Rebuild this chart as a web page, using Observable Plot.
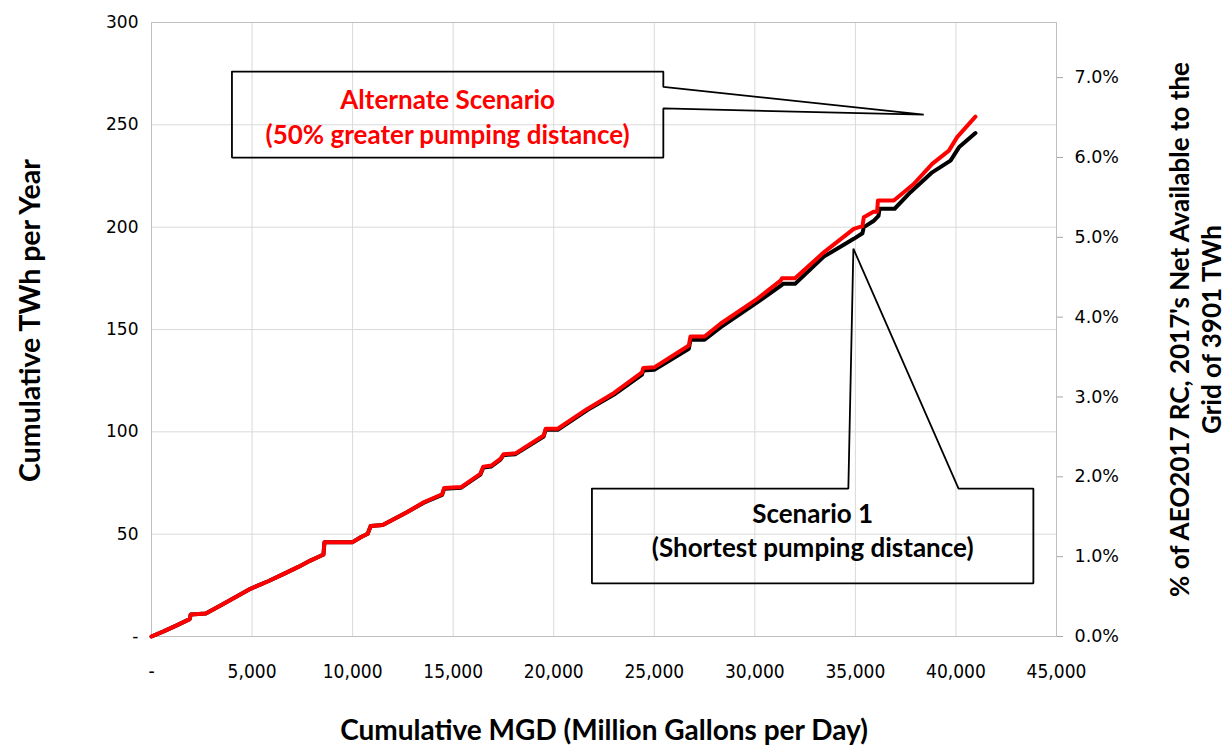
<!DOCTYPE html>
<html><head><meta charset="utf-8">
<script src="https://cdn.jsdelivr.net/npm/d3@7"></script>
<script src="https://cdn.jsdelivr.net/npm/@observablehq/plot@0.6"></script>
<style>body{margin:0;background:#fff;}</style>
</head><body><div id="chart"></div>
<script>
// Alternate Scenario (50% greater pumping distance): cumulative MGD vs cumulative TWh/yr
const altMGD = [0,600,1200,1900,1950,2700,3500,4920,5800,6580,7300,7900,8450,8550,8600,10000,10400,10750,10900,11500,12700,13540,14450,14550,15400,16350,16500,16900,17350,17500,18100,19500,19600,20200,21670,23000,24390,24450,25000,26720,26800,27500,28290,30120,31280,31350,32000,33430,34920,35350,35420,35900,36080,36120,36910,37410,37900,38820,39650,40060,40970];
const altTWh = [0,2.5,5.2,8.5,10.8,11.2,15.5,23.3,27,30.6,34,37.1,39.6,40,46.1,46.1,48.5,50.2,54,54.5,60.7,65.6,69.5,72.5,73,79.5,83,83.5,86.8,89,89.5,98.2,101.5,101.5,111.2,119,129,131.2,131.5,142.2,146.6,146.6,152.8,165,173.9,175,175,187.7,199.2,200.5,204.9,207.5,207.5,213,213,217.1,221.1,230.9,237.4,244,254];
// Scenario 1 (shortest pumping distance)
const baseMGD = [0,600,1200,1900,1950,2700,3500,4920,5800,6580,7300,7900,8450,8550,8600,10000,10400,10750,10900,11500,12700,13540,14450,14550,15400,16350,16500,16900,17350,17500,18100,19500,19600,20200,21670,23000,24390,24450,25000,26720,26800,27500,28290,30120,31280,31400,32000,33430,34920,35350,35420,35900,36150,36200,36950,37740,38820,39730,40150,40970];
const baseTWh = [0,2.5,5.2,8.5,10.8,11.2,15.5,23.3,27,30.6,34,37.1,39.6,40,46.1,46.1,48.5,50.2,54,54.5,60.7,65.4,69.2,72.2,72.7,79.1,82.6,83.1,86.4,88.6,89.1,97.7,101,101,110.6,118.2,127.9,130,130.3,140.6,145,145,151,163.3,171.3,172.3,172.3,185.6,194.3,197,200,203,205.5,209,209,217.1,226.8,232.5,239,246];

const xTicks = [0,5000,10000,15000,20000,25000,30000,35000,40000,45000];
const yTicks = [0,50,100,150,200,250,300];
const pctTicks = [0,1,2,3,4,5,6,7];
const gridTotalTWh = 3901;

const xTitle = "Cumulative MGD (Million Gallons per Day)";
const yTitle = "Cumulative TWh per Year";
const y2Title = "% of AEO2017 RC, 2017's Net Available to the\nGrid of 3901 TWh";

// Callout annotations (data coordinates)
const altCallout = {text: ["Alternate Scenario", "(50% greater pumping distance)"],
  x0: 4000, x1: 25450, y0: 234, y1: 276, notchLo: 258, notchHi: 268.5, tip: [38400, 255], textY: 254.5};
const baseCallout = {text: ["Scenario 1", "(Shortest pumping distance)"],
  x0: 21900, x1: 43850, y0: 26, y1: 72.3, notchL: 34650, notchR: 40130, tip: [34900, 189.5], textY: 52.3};

const alt = altMGD.map((m, i) => ({mgd: m, twh: altTWh[i]}));
const base = baseMGD.map((m, i) => ({mgd: m, twh: baseTWh[i]}));

const altPoly = [[altCallout.x0, altCallout.y1],[altCallout.x1, altCallout.y1],[altCallout.x1, altCallout.notchHi],
  altCallout.tip,[altCallout.x1, altCallout.notchLo],[altCallout.x1, altCallout.y0],[altCallout.x0, altCallout.y0],[altCallout.x0, altCallout.y1]];
const basePoly = [[baseCallout.x0, baseCallout.y1],[baseCallout.notchL, baseCallout.y1], baseCallout.tip,
  [baseCallout.notchR, baseCallout.y1],[baseCallout.x1, baseCallout.y1],[baseCallout.x1, baseCallout.y0],[baseCallout.x0, baseCallout.y0],[baseCallout.x0, baseCallout.y1]];

const boldFont = "Lato, 'Open Sans', sans-serif";
const tickFont = "'DejaVu Sans', Verdana, sans-serif";
const narrowFont = "'Liberation Sans Narrow', 'DejaVu Sans Condensed', Lato, sans-serif";

const chart = Plot.plot({
  width: 1226, height: 748,
  marginLeft: 151, marginRight: 170, marginTop: 22, marginBottom: 112,
  style: {background: "#fff", color: "#000", fontFamily: tickFont},
  x: {domain: [0, 45000]},
  y: {domain: [0, 300]},
  marks: [
    Plot.gridX(xTicks, {stroke: "#d9d9d9", strokeOpacity: 1}),
    Plot.gridY(yTicks, {stroke: "#d9d9d9", strokeOpacity: 1}),
    Plot.frame({stroke: "#bfbfbf"}),
    Plot.axisX(xTicks, {tickSize: 0, tickPadding: 28, label: null, fontSize: 19, fontFamily: narrowFont,
      tickFormat: d => d === 0 ? "-" : d3.format(",")(d)}),
    Plot.axisY(yTicks, {anchor: "left", tickSize: 0, tickPadding: 13, label: null, fontSize: 17, fontFamily: tickFont,
      tickFormat: d => d === 0 ? "-" : String(d)}),
    Plot.axisY(pctTicks.map(p => p * gridTotalTWh / 100), {anchor: "right", tickSize: 6, tickPadding: 12, label: null,
      stroke: "#a6a6a6", fill: "#000", fontSize: 17.5, fontFamily: tickFont,
      tickFormat: d => (d / gridTotalTWh * 100).toFixed(1) + "%"}),
    Plot.line(base, {x: "mgd", y: "twh", stroke: "#000", strokeWidth: 4, curve: "linear"}),
    Plot.line(alt, {x: "mgd", y: "twh", stroke: "#ff0000", strokeWidth: 4, curve: "linear"}),
    Plot.line(altPoly, {x: d => d[0], y: d => d[1], stroke: "#000", strokeWidth: 1.8, strokeLinejoin: "miter"}),
    Plot.line(basePoly, {x: d => d[0], y: d => d[1], stroke: "#000", strokeWidth: 1.8, strokeLinejoin: "miter"}),
    Plot.text([altCallout.text.join("\n")], {x: (altCallout.x0 + altCallout.x1) / 2, y: altCallout.textY,
      text: d => d, fill: "#ff0000", fontWeight: "bold", fontSize: 26, fontFamily: boldFont, lineHeight: 1.31}),
    Plot.text([baseCallout.text.join("\n")], {x: (baseCallout.x0 + baseCallout.x1) / 2, y: baseCallout.textY,
      text: d => d, fill: "#000", fontWeight: "bold", fontSize: 26, fontFamily: boldFont, lineHeight: 1.31}),
    Plot.text([xTitle], {frameAnchor: "bottom", dy: 95, lineAnchor: "middle", textAnchor: "middle", text: d => d,
      fontWeight: "bold", fontSize: 28, fontFamily: boldFont}),
    Plot.text([yTitle], {frameAnchor: "left", dx: -121, dy: -9, rotate: -90, textAnchor: "middle", lineAnchor: "middle", text: d => d,
      fontWeight: "bold", fontSize: 28.5, fontFamily: boldFont}),
    Plot.text([y2Title], {frameAnchor: "right", dx: 138, rotate: -90, textAnchor: "middle", lineAnchor: "middle", text: d => d,
      fontWeight: "bold", fontSize: 26, fontFamily: boldFont, lineHeight: 1.25})
  ]
});
document.getElementById("chart").append(chart);
</script>
</body></html>
